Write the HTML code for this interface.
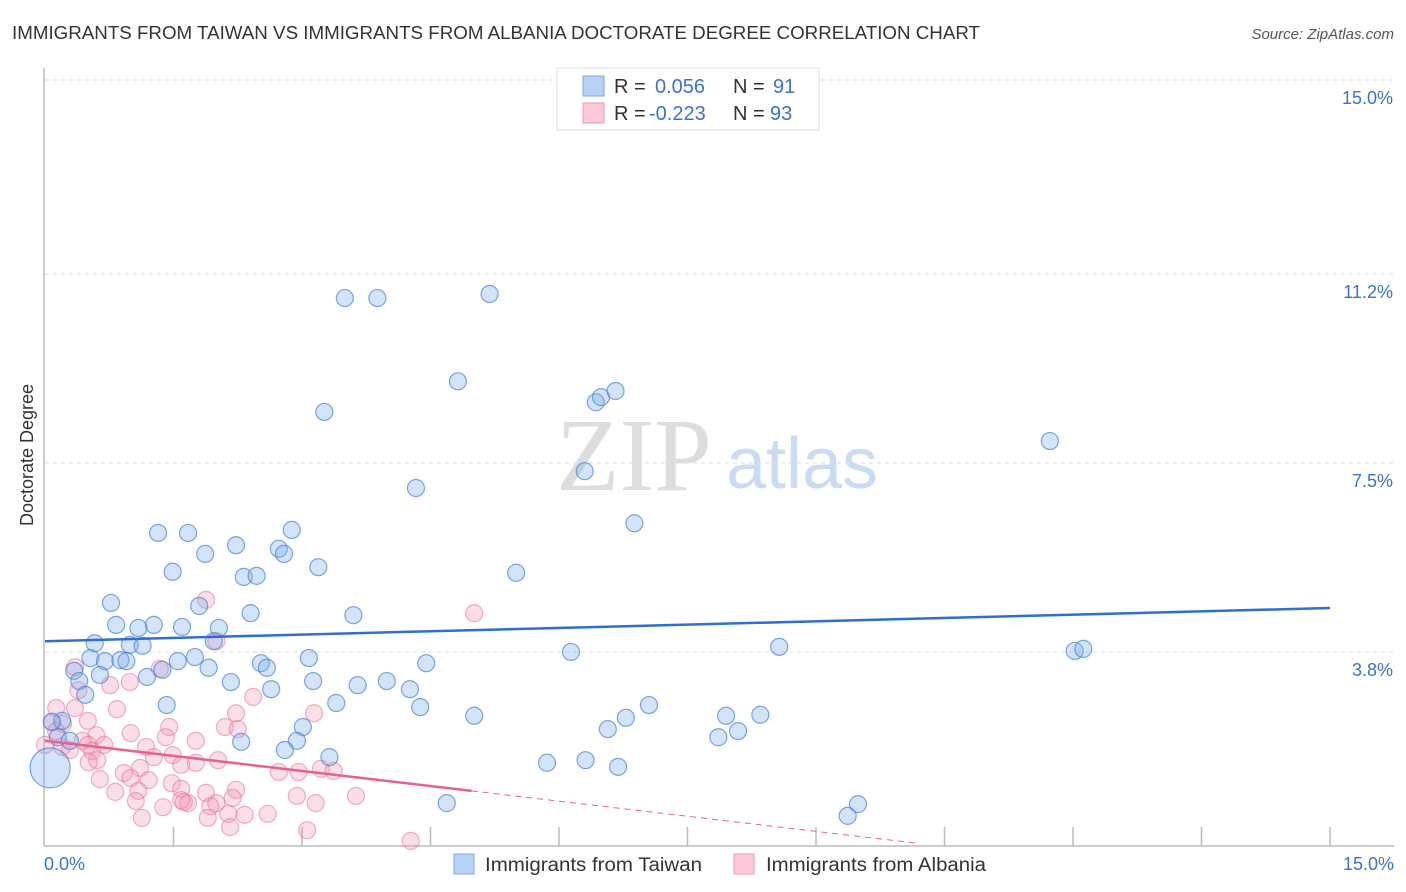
<!DOCTYPE html>
<html><head><meta charset="utf-8"><style>
body{margin:0;background:#fff;font-family:"Liberation Sans",sans-serif;}
svg{display:block}
</style></head><body>
<svg id="chart" width="1406" height="892">
<text x="12" y="39" font-size="18" fill="#333" textLength="968" lengthAdjust="spacingAndGlyphs">IMMIGRANTS FROM TAIWAN VS IMMIGRANTS FROM ALBANIA DOCTORATE DEGREE CORRELATION CHART</text>
<text x="1394" y="39" font-size="15" fill="#555" font-style="italic" text-anchor="end">Source: ZipAtlas.com</text>
<text transform="translate(33,455) rotate(-90)" font-size="18" fill="#333" text-anchor="middle">Doctorate Degree</text>
<g><text x="634" y="490" font-size="104" fill="#ddd" font-family="Liberation Serif,serif" text-anchor="middle">ZIP</text><text x="802" y="488" font-size="72" fill="#c9dcf3" text-anchor="middle">atlas</text></g>
<g id="grid"></g><g id="axes"></g><g id="pts"></g><g id="lines"></g>
<g>
<rect x="557" y="68" width="262" height="62" fill="#fff" stroke="#ddd"/>
<rect x="583" y="76" width="21" height="20" fill="#b7d2f5" stroke="#7aa7e6"/>
<rect x="583" y="103" width="21" height="20" fill="#fbc9d8" stroke="#ef9ab6"/>
<text x="614" y="93" font-size="20" fill="#333">R = </text><text x="655" y="93" font-size="20" fill="#3b72d1">0.056</text>
<text x="733" y="93" font-size="20" fill="#333">N = </text><text x="773" y="93" font-size="20" fill="#3b72d1">91</text>
<text x="614" y="120" font-size="20" fill="#333">R = </text><text x="649" y="120" font-size="20" fill="#3b72d1">-0.223</text>
<text x="733" y="120" font-size="20" fill="#333">N = </text><text x="770" y="120" font-size="20" fill="#3b72d1">93</text>
</g>
<g>
<rect x="454" y="854" width="20" height="20" fill="#b7d2f5" stroke="#7aa7e6"/><text x="485" y="871" font-size="19" fill="#333" textLength="217" lengthAdjust="spacingAndGlyphs">Immigrants from Taiwan</text>
<rect x="734" y="854" width="20" height="20" fill="#fbc9d8" stroke="#ef9ab6"/><text x="766" y="871" font-size="19" fill="#333" textLength="220" lengthAdjust="spacingAndGlyphs">Immigrants from Albania</text>
</g>
</svg>
<script>
const yTicks=[3.8,7.5,11.2,15.0];
const xTickLabels=["0.0%","15.0%"];
const taiwanX=[3.50,3.88,5.19,4.82,3.26,6.43,6.49,6.66,6.30,4.33,6.88,11.73,1.32,1.67,2.88,2.23,2.73,2.79,1.87,1.49,2.32,2.47,3.19,5.50,0.77,1.80,2.40,3.60,0.83,1.27,1.60,1.09,2.03,0.58,0.99,1.14,1.97,0.53,0.70,0.88,0.95,1.55,1.75,1.91,3.08,2.52,2.59,4.45,6.14,8.57,12.02,12.12,0.34,0.40,0.64,1.19,1.37,2.17,2.64,3.13,3.65,3.99,4.26,4.38,1.42,0.47,3.40,5.01,7.05,6.78,6.57,7.95,8.35,7.86,8.09,3.01,2.94,2.29,2.80,3.32,5.86,6.31,6.69,4.69,9.49,9.37,0.20,0.15,0.29,0.08,0.06];
const taiwanY=[10.73,10.73,10.81,9.10,8.50,8.69,8.79,8.91,7.34,7.01,6.32,7.93,6.13,6.13,6.19,5.89,5.82,5.72,5.72,5.37,5.27,5.29,5.46,5.35,4.76,4.70,4.56,4.52,4.33,4.33,4.29,4.27,4.27,3.97,3.94,3.92,4.01,3.68,3.62,3.64,3.62,3.62,3.70,3.49,3.68,3.58,3.49,3.58,3.80,3.90,3.82,3.86,3.43,3.23,3.35,3.31,3.45,3.21,3.07,3.23,3.15,3.23,3.07,2.72,2.76,2.96,2.80,2.55,2.76,2.51,2.29,2.55,2.57,2.13,2.25,2.33,2.06,2.04,1.88,1.74,1.63,1.68,1.55,0.84,0.82,0.59,2.45,2.13,2.06,2.43,1.53];
const albaniaX=[1.88,5.01,2.00,0.35,0.99,0.76,1.34,0.39,0.84,2.43,0.13,0.35,0.50,0.08,0.21,2.10,1.45,1.00,2.23,3.14,2.25,0.13,0.60,1.41,0.44,0.69,1.76,1.18,0.20,0.55,1.49,1.27,0.61,2.02,0.51,1.76,1.59,1.11,3.22,0.92,2.73,2.96,3.37,1.00,0.64,1.21,1.48,2.23,0.82,1.09,1.88,1.59,2.94,3.63,2.19,2.00,1.67,1.62,1.59,1.06,1.38,3.16,1.93,2.14,2.33,2.60,1.13,1.90,2.16,3.06,4.27,0.50,0.29,0.00];
const albaniaY=[4.82,4.56,4.01,3.50,3.21,3.15,3.47,3.05,2.68,2.92,2.70,2.70,2.45,2.43,2.39,2.33,2.33,2.21,2.60,2.60,2.29,2.25,2.17,2.13,2.06,1.98,2.06,1.94,1.94,1.86,1.78,1.74,1.68,1.68,1.64,1.63,1.59,1.53,1.51,1.43,1.45,1.45,1.47,1.33,1.31,1.29,1.23,1.10,1.06,1.08,1.04,1.12,0.98,0.98,0.94,0.84,0.84,0.86,0.90,0.88,0.76,0.84,0.78,0.63,0.61,0.63,0.55,0.55,0.37,0.31,0.10,1.98,1.88,1.98];
const taiwanTrend=[4.01,4.66];
const albaniaTrend=[2.06,-0.197];
const NS="http://www.w3.org/2000/svg";
const X0=45,X1=1330,Y0=846,Y1=80;
function sx(v){return X0+(v/15)*(X1-X0);}
function sy(v){return Y0-(v/15)*(Y0-Y1);}
function mk(tag,attrs,parent){const e=document.createElementNS(NS,tag);for(const k in attrs)e.setAttribute(k,attrs[k]);parent.appendChild(e);return e;}
const grid=document.getElementById('grid'),axes=document.getElementById('axes'),pts=document.getElementById('pts'),lines=document.getElementById('lines');
yTicks.forEach(t=>{
 const l=mk('line',{x1:X0,x2:1394,y1:sy(t),y2:sy(t),stroke:'#ddd','stroke-dasharray':'4,4'},grid);
 
 
 const tx=mk('text',{x:1393,y:sy(t)+24,'font-size':18,fill:'#3b72d1','text-anchor':'end'},grid);
 tx.textContent=t.toFixed(1)+'%';
 
 
});
const ya=mk('line',{x1:X0-1,x2:X0-1,y1:68,y2:Y0,stroke:'#bbb','stroke-width':1.5},axes);


const xa=mk('line',{x1:X0-1,x2:1394,y1:Y0,y2:Y0,stroke:'#bbb','stroke-width':1.5},axes);


for(let i=1;i<=10;i++){const t=mk('line',{x1:sx(i*1.5),x2:sx(i*1.5),y1:Y0-19,y2:Y0,stroke:'#bbb','stroke-width':1.5},axes);
 
 }
const xl0=mk('text',{x:44,y:870,'font-size':18,fill:'#3b72d1'},axes);xl0.textContent=xTickLabels[0];


const xl1=mk('text',{x:1394,y:870,'font-size':18,fill:'#3b72d1','text-anchor':'end'},axes);xl1.textContent=xTickLabels[1];


albaniaX.forEach((x,i)=>{const c=mk('circle',{cx:sx(x),cy:sy(albaniaY[i]),r:8.5,fill:'rgba(242,150,180,0.3)',stroke:'rgba(232,110,150,0.55)','stroke-width':1.2},pts);
 
 });
taiwanX.forEach((x,i)=>{const r=i===taiwanX.length-1?20:8.5;const c=mk('circle',{cx:sx(x),cy:sy(taiwanY[i]),r:r,fill:'rgba(130,175,235,0.35)',stroke:'rgba(70,130,215,0.7)','stroke-width':1.2},pts);
 
 });
const tl=mk('line',{x1:sx(0),y1:sy(taiwanTrend[0]),x2:sx(15),y2:sy(taiwanTrend[1]),stroke:'#2e6fd0','stroke-width':2.5},lines);


const af=x=>albaniaTrend[0]+albaniaTrend[1]*x;
const al=mk('line',{x1:sx(0),y1:sy(af(0)),x2:sx(4.98),y2:sy(af(4.98)),stroke:'#e8608e','stroke-width':2.5},lines);


const ad=mk('line',{x1:sx(4.98),y1:sy(af(4.98)),x2:sx(10.2),y2:sy(af(10.2)),stroke:'#e8608e','stroke-width':1,'stroke-dasharray':'6,5'},lines);


</script>
</body></html>
